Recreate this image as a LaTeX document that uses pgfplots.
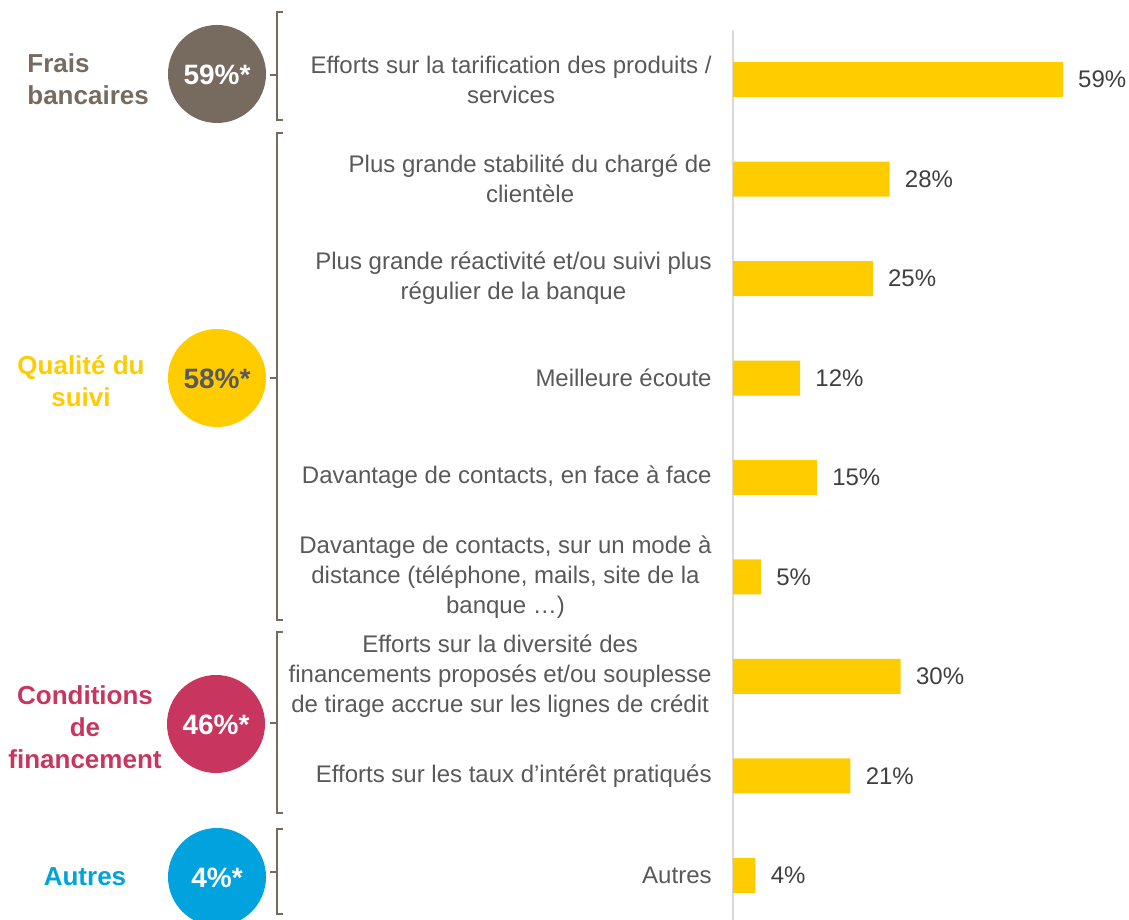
\documentclass[border=0pt]{standalone}
\usepackage{pgfplots}
\pgfplotsset{compat=1.18}
\usepackage{fontspec}
\setmainfont{Liberation Sans}
\definecolor{barY}{HTML}{FFCC00}
\definecolor{grpBrown}{HTML}{776B60}
\definecolor{grpPink}{HTML}{C8365F}
\definecolor{grpBlue}{HTML}{00A3DD}
\definecolor{txt}{HTML}{595959}
\definecolor{valtxt}{HTML}{404040}
\definecolor{axisgray}{HTML}{D9D9D9}

\begin{document}
\begin{tikzpicture}
\path[use as bounding box] (0,0) rectangle (564.5pt,460pt);
\begin{axis}[
  at={(366.5pt,0pt)}, anchor=south west, scale only axis,
  width=198pt, height=445pt,
  xbar, bar width=17.5pt,
  xmin=0, xmax=70.84, ymin=-0.5, ymax=8.45, y dir=reverse,
  hide x axis, axis y line*=left,
  y axis line style={draw=axisgray, line width=0.75pt, -},
  ytick={0,...,8}, major tick length=0pt,
  yticklabels={
    {Efforts sur la tarification des produits /\\services},
    {Plus grande stabilité du chargé de\\clientèle},
    {Plus grande réactivité et/ou suivi plus\\régulier de la banque},
    {Meilleure écoute},
    {Davantage de contacts, en face à face},
    {Davantage de contacts, sur un mode à\\distance (téléphone, mails, site de la\\banque …)},
    {Efforts sur la diversité des\\financements proposés et/ou souplesse\\de tirage accrue sur les lignes de crédit},
    {Efforts sur les taux d’intérêt pratiqués},
    {Autres}},
  yticklabel style={align=center, anchor=east, inner sep=0pt, xshift=-10.5pt,
    font=\fontsize{12}{15}\selectfont, text=txt},
  /pgf/number format/assume math mode=true,
  nodes near coords={\pgfmathprintnumber{\pgfplotspointmeta}\%},
  nodes near coords style={anchor=west, inner sep=0pt, xshift=7.5pt,
    font=\fontsize{12}{14}\selectfont, text=valtxt},
  clip=false,
]
\addplot[fill=barY, draw=none] coordinates {(59,0) (28,1) (25,2) (12,3) (15,4) (5,5) (30,6) (21,7) (4,8)};
\end{axis}
% group circles, brackets and labels (pixel grid of the reference)
\begin{scope}[x=0.5pt, y=-0.5pt, shift={(0pt,460pt)}]
  \fill[grpBrown] (217,74) circle[radius=24.5pt];
  \fill[barY] (217,378) circle[radius=24.5pt];
  \fill[grpPink] (216,724) circle[radius=24.5pt];
  \fill[grpBlue] (217,877) circle[radius=24.5pt];
  \begin{scope}[font=\fontsize{14}{16}\selectfont\bfseries]
    \node[text=white] at (217,75) {59\%*};
    \node[text=txt] at (217,379) {58\%*};
    \node[text=white] at (216,725) {46\%*};
    \node[text=white] at (217,878) {4\%*};
  \end{scope}
  \begin{scope}[draw=grpBrown, line width=0.75pt]
    \draw (283,12) -- (277,12) -- (277,120) -- (283,120) (277,75) -- (270,75);
    \draw (283,133) -- (277,133) -- (277,620) -- (283,620) (277,378) -- (270,378);
    \draw (283,632) -- (277,632) -- (277,813) -- (283,813) (277,723) -- (270,723);
    \draw (283,829) -- (277,829) -- (277,914) -- (283,914) (277,872) -- (270,872);
  \end{scope}
  \begin{scope}[font=\fontsize{13}{16}\selectfont\bfseries, inner sep=0pt]
    \node[text=grpBrown, align=left, anchor=west] at (27,79) {Frais\\bancaires};
    \node[text=barY, align=center] at (81,381) {Qualité du\\suivi};
    \node[text=grpPink, align=center] at (85,727) {Conditions\\de\\financement};
    \node[text=grpBlue, align=center] at (85,877) {Autres};
  \end{scope}
\end{scope}
\end{tikzpicture}
\end{document}
